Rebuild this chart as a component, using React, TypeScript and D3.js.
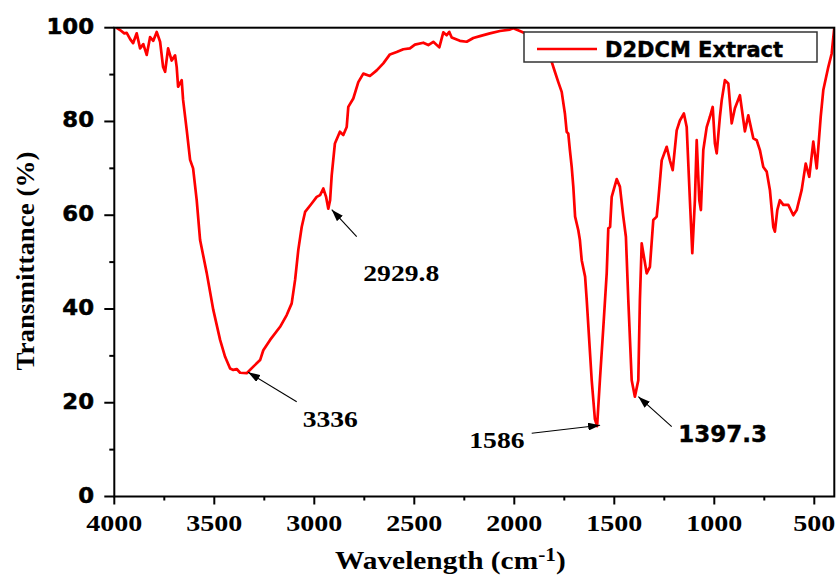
import React from "react";
import * as d3 from "d3";

const WAVENUMBER = [
  3990, 3971, 3950, 3938, 3920, 3906, 3888, 3871, 3855, 3838, 3821, 3805, 3788, 3771, 3756, 3746, 3731, 3713, 3696, 3688,
  3681, 3663, 3656, 3638, 3621, 3606, 3588, 3571, 3538, 3505, 3471, 3446, 3421, 3405, 3388, 3371, 3338, 3305, 3271, 3255,
  3221, 3171, 3138, 3113, 3096, 3080, 3063, 3046, 3013, 2988, 2971, 2955, 2941, 2930, 2921, 2913, 2897, 2872, 2855, 2838,
  2830, 2805, 2780, 2755, 2722, 2688, 2655, 2622, 2588, 2555, 2522, 2497, 2455, 2430, 2405, 2375, 2355, 2338, 2325, 2313,
  2272, 2238, 2205, 2172, 2122, 2072, 2022, 2005, 1972, 1955, 1900, 1850, 1813, 1797, 1780, 1763, 1747, 1738, 1730, 1722,
  1713, 1705, 1696, 1680, 1672, 1663, 1646, 1638, 1613, 1597, 1586, 1572, 1555, 1538, 1530, 1521, 1513, 1488, 1472, 1455,
  1442, 1430, 1413, 1397, 1380, 1372, 1363, 1338, 1322, 1305, 1288, 1280, 1263, 1238, 1222, 1208, 1188, 1172, 1152, 1138,
  1122, 1110, 1097, 1088, 1075, 1067, 1055, 1038, 1022, 1008, 997, 988, 972, 963, 947, 930, 913, 897, 872, 847,
  830, 805, 788, 772, 755, 738, 722, 705, 697, 685, 672, 655, 630, 605, 588, 563, 543, 525, 505, 488,
  468, 455, 430, 413, 400,
];

const TRANSMITTANCE = [
  100, 99.5, 98.8, 98.9, 97.5, 96.7, 98.8, 95.6, 96.5, 94.2, 98.0, 97.2, 99.1, 97.0, 91.6, 90.6, 95.6, 93.0, 94.1, 91.6,
  87.4, 88.8, 84.6, 78.2, 71.8, 70.0, 63.2, 54.7, 47.7, 39.8, 33.4, 29.8, 27.3, 27.0, 27.2, 26.4, 26.3, 27.7, 29.1, 31.2,
  33.4, 36.2, 38.7, 41.2, 46.2, 52.6, 57.5, 60.7, 62.5, 63.9, 64.3, 65.7, 63.9, 61.4, 63.2, 68.5, 75.3, 77.8, 77.1, 78.8,
  83.1, 84.9, 88.4, 90.2, 89.7, 90.9, 92.4, 94.3, 94.8, 95.4, 95.6, 96.4, 96.8, 96.3, 97.0, 95.8, 99.0, 98.4, 99.1, 97.9,
  97.2, 97.0, 97.8, 98.2, 98.8, 99.3, 99.6, 99.9, 99.3, 99.0, 98.0, 96.0, 92.7, 90.6, 88.4, 86.3, 81.7, 77.8, 77.4, 73.9,
  70.3, 66.1, 59.7, 56.8, 54.7, 50.4, 46.9, 42.0, 24.8, 16.5, 15.0, 24.8, 36.0, 47.6, 57.2, 57.5, 63.9, 67.7, 66.1, 59.7,
  55.4, 41.9, 24.8, 21.3, 24.8, 41.9, 54.0, 47.6, 49.0, 59.0, 59.7, 63.2, 71.7, 74.6, 71.7, 69.6, 78.1, 80.2, 81.7, 78.8,
  63.2, 51.9, 63.2, 76.0, 63.2, 61.1, 73.9, 78.8, 81.0, 83.1, 75.3, 73.2, 81.0, 84.5, 88.8, 88.1, 79.6, 82.8, 85.6, 77.9,
  81.3, 76.4, 76.0, 73.9, 70.3, 69.3, 65.4, 57.5, 56.5, 61.1, 63.2, 62.2, 62.2, 60.0, 61.1, 65.4, 71.0, 68.2, 75.7, 70.0,
  81.0, 86.7, 91.6, 94.5, 100,
];

const X_TICKS = [4000, 3500, 3000, 2500, 2000, 1500, 1000, 500];
const X_MINOR = [3750, 3250, 2750, 2250, 1750, 1250, 750];
const Y_TICKS = [0, 20, 40, 60, 80, 100];
const Y_MINOR = [10, 30, 50, 70, 90];

const SERIES_NAME = "D2DCM Extract";
const X_TITLE = "Wavelength (cm";
const X_TITLE_SUP = "-1";
const Y_TITLE = "Transmittance (%)";

// annotation peaks: label, wavenumber, transmittance
const PEAK_LABELS = ["3336", "2929.8", "1586", "1397.3"];
const PEAK_V = [3336, 2929.8, 1586, 1397.3];
const PEAK_T = [26.3, 61.4, 15.0, 21.3];

// layout for annotations (pixel)
const ANN_LAYOUT = [
  { lx: 302.7, ly: 427.3, tx: 296.7, ty: 401.7, dx: 1, dy: -1, sans: false },
  { lx: 363.3, ly: 280.7, tx: 356.7, ty: 236.7, dx: 3.4, dy: 1, sans: false },
  { lx: 469.3, ly: 448.3, tx: 531.7, ty: 433.3, dx: 3, dy: -1, sans: false },
  { lx: 678.3, ly: 442.3, tx: 671.7, ty: 426.7, dx: 3.5, dy: 0, sans: true },
];

const W = 839;
const H = 575;
const L = 114.3;
const R = 834.3;
const T0 = 27.7;
const B = 496.5;

const SERIF = "Liberation Serif";
const SANS = "DejaVu Sans";

export default function App() {
  const x = d3.scaleLinear().domain([4000, 400]).range([L, R]);
  const y = d3.scaleLinear().domain([0, 100]).range([B, T0]);

  const pts = WAVENUMBER.map((v, i) => [v, TRANSMITTANCE[i]] as [number, number]);
  const line = d3
    .line<[number, number]>()
    .x((d) => x(d[0]))
    .y((d) => y(d[1]))
    .curve(d3.curveLinear);

  const serifStyle = { fontFamily: SERIF, fontWeight: 700 };
  const sansStyle = { fontFamily: SANS, fontWeight: 700 };

  return (
    <svg
      width={W}
      height={H}
      style={{ position: "absolute", left: 0, top: 0, background: "#fff" }}
    >
      <defs>
        <clipPath id="plot">
          <rect x={L} y={T0 - 1} width={R - L} height={B - T0 + 1} />
        </clipPath>
        <marker
          id="arrow"
          viewBox="0 0 12 8"
          refX="12"
          refY="4"
          markerWidth="12"
          markerHeight="8"
          markerUnits="userSpaceOnUse"
          orient="auto"
        >
          <path d="M0,0 L12,4 L0,8 Z" fill="#000" />
        </marker>
      </defs>
      <rect x={0} y={0} width={W} height={H} fill="#fff" />

      {/* curve */}
      <path
        d={line(pts) || ""}
        fill="none"
        stroke="#ff0000"
        strokeWidth={2.7}
        strokeLinejoin="round"
        clipPath="url(#plot)"
      />

      {/* frame */}
      <rect x={L} y={T0} width={R - L} height={B - T0} fill="none" stroke="#000" strokeWidth={2} />

      {/* x ticks */}
      {X_TICKS.map((v) => (
        <line key={"xt" + v} x1={x(v)} x2={x(v)} y1={B} y2={B + 8} stroke="#000" strokeWidth={2} />
      ))}
      {X_MINOR.map((v) => (
        <line key={"xm" + v} x1={x(v)} x2={x(v)} y1={B} y2={B + 4} stroke="#000" strokeWidth={2} />
      ))}
      {X_TICKS.map((v) => (
        <text
          key={"xl" + v}
          transform={`translate(${x(v)},530.5) scale(1.17,1)`}
          textAnchor="middle"
          style={serifStyle}
          fontSize={24}
          fill="#000"
        >
          {v}
        </text>
      ))}

      {/* y ticks */}
      {Y_TICKS.map((v) => (
        <line key={"yt" + v} x1={L - 10} x2={L} y1={y(v)} y2={y(v)} stroke="#000" strokeWidth={2} />
      ))}
      {Y_MINOR.map((v) => (
        <line key={"ym" + v} x1={L - 5} x2={L} y1={y(v)} y2={y(v)} stroke="#000" strokeWidth={2} />
      ))}
      {Y_TICKS.map((v) => (
        <text
          key={"yl" + v}
          transform={`translate(94,${y(v) + 6}) scale(1.06,1)`}
          textAnchor="end"
          style={sansStyle}
          fontSize={21.5}
          fill="#000"
          stroke="#000"
          strokeWidth={0.5}
        >
          {v}
        </text>
      ))}

      {/* axis titles */}
      <text
        transform={`translate(335,569) scale(1.13,1)`}
        style={serifStyle}
        fontSize={26}
        fill="#000"
      >
        {X_TITLE}
        <tspan fontSize={19} dy={-8}>
          {X_TITLE_SUP}
        </tspan>
        <tspan dy={8}>)</tspan>
      </text>
      <text
        transform={`translate(34,261) rotate(-90) scale(1.08,1)`}
        textAnchor="middle"
        style={serifStyle}
        fontSize={25}
        fill="#000"
      >
        {Y_TITLE}
      </text>

      {/* annotations */}
      {PEAK_LABELS.map((lab, i) => {
        const a = ANN_LAYOUT[i];
        const tipX = x(PEAK_V[i]) + a.dx;
        const tipY = y(PEAK_T[i]) + a.dy;
        return (
          <g key={"ann" + i}>
            <line
              x1={a.tx}
              y1={a.ty}
              x2={tipX}
              y2={tipY}
              stroke="#000"
              strokeWidth={1.1}
              markerEnd="url(#arrow)"
            />
            {a.sans ? (
              <text
                x={a.lx}
                y={a.ly}
                style={sansStyle}
                fontSize={23}
                fill="#000"
                stroke="#000"
                strokeWidth={0.4}
              >
                {lab}
              </text>
            ) : (
              <text
                transform={`translate(${a.lx},${a.ly}) scale(1.15,1)`}
                style={serifStyle}
                fontSize={24}
                fill="#000"
              >
                {lab}
              </text>
            )}
          </g>
        );
      })}

      {/* legend */}
      <rect x={524} y={32} width={293} height={30} fill="#fff" stroke="#333" strokeWidth={1.5} />
      <line x1={537} x2={597} y1={49} y2={49} stroke="#ff0000" strokeWidth={2.6} />
      <text
        x={605}
        y={57}
        style={sansStyle}
        fontSize={21}
        fill="#000"
        stroke="#000"
        strokeWidth={0.4}
      >
        {SERIES_NAME}
      </text>
    </svg>
  );
}
